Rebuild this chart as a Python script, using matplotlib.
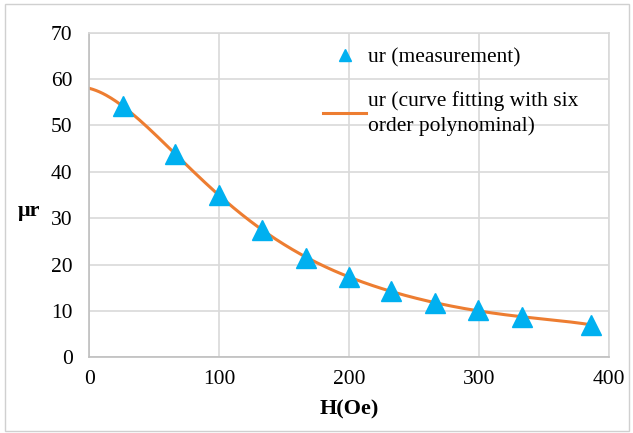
import matplotlib.pyplot as plt
import numpy as np
from matplotlib.patches import Rectangle

H = [26, 66, 100, 133, 167, 200, 232, 266, 299, 333, 386]
ur = [54.1, 43.9, 34.9, 27.5, 21.5, 17.4, 14.2, 11.7, 10.1, 8.7, 7.0]

x_ticks = [0, 100, 200, 300, 400]
y_ticks = [0, 10, 20, 30, 40, 50, 60, 70]

plt.rcParams['font.family'] = ['Liberation Serif', 'DejaVu Serif']

fig = plt.figure(figsize=(6.33, 4.33), dpi=100)
ax = fig.add_axes([0.141, 0.175, 0.821, 0.7495])

# six order polynomial fit of the measurements, as in the legend
coef = np.polyfit(H, ur, 6)
hh = np.linspace(0, max(H), 300)
ax.plot(hh, np.polyval(coef, hh), color='#ED7D31', lw=2.2, zorder=2,
        label='ur (curve fitting with six\norder polynominal)')
ax.plot(H, ur, linestyle='none', marker='^', ms=15, color='#00B0F0', zorder=3,
        label='ur (measurement)')

ax.set_xlim(0, 400)
ax.set_ylim(0, 70)
ax.set_xticks(x_ticks)
ax.set_yticks(y_ticks)
ax.grid(True, color='#d9d9d9', lw=1.2)
ax.set_axisbelow(True)
ax.tick_params(length=0, labelsize=15.5)
ax.tick_params(axis='y', pad=12)
ax.tick_params(axis='x', pad=9)
for s in ax.spines.values():
    s.set_color('#d9d9d9')
    s.set_linewidth(1.2)
ax.spines['bottom'].set_color('#bfbfbf')
ax.spines['left'].set_color('#bfbfbf')

ax.set_xlabel('H(Oe)', fontsize=16, fontweight='bold', labelpad=8)
ax.set_ylabel('μr', fontsize=16, fontweight='bold', rotation=0)
ax.yaxis.set_label_coords(-0.115, 0.42)

handles, labels = ax.get_legend_handles_labels()
leg = ax.legend(handles[::-1], labels[::-1], loc='upper left', bbox_to_anchor=(0.425, 0.995),
                frameon=False, fontsize=15.5, markerscale=0.6, handlelength=2.0,
                handletextpad=0.1, labelspacing=1.1, borderpad=0.1)
for t in leg.get_texts():
    t.set_linespacing(1.35)

fig.patches.append(Rectangle((0.008, 0.005), 0.986, 0.985, transform=fig.transFigure,
                             fill=False, edgecolor='#d0d0d0', lw=1))

fig.savefig('out.png', dpi=100)
